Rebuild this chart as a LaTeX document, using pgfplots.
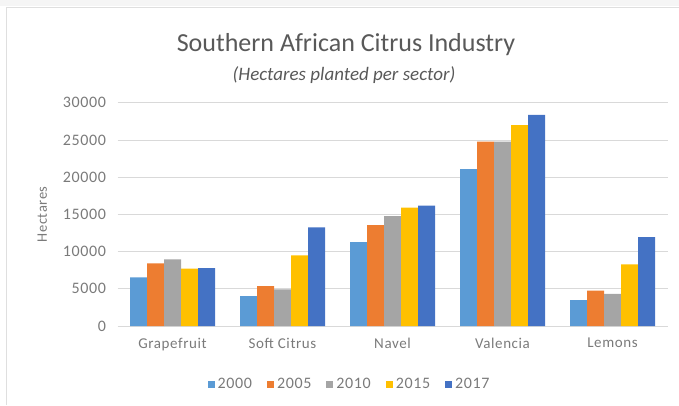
\documentclass[border=0pt]{standalone}
\usepackage{pgfplots}
\pgfplotsset{compat=1.18}
\usepackage{fontspec}
\setmainfont{Carlito}
\newfontfamily\lbl[LetterSpace=4]{Carlito}
\definecolor{c2000}{HTML}{5B9BD5}
\definecolor{c2005}{HTML}{ED7D31}
\definecolor{c2010}{HTML}{A5A5A5}
\definecolor{c2015}{HTML}{FFC000}
\definecolor{c2017}{HTML}{4472C4}
\definecolor{txt}{HTML}{595959}
\definecolor{ltxt}{HTML}{7A7A7A}
\definecolor{grd}{HTML}{D9D9D9}
\begin{document}
\begin{tikzpicture}[x=1pt,y=1pt]
\useasboundingbox (0,0) rectangle (679,405);
\fill[gray!8] (0,399) rectangle (679,405);
\draw[gray!25,line width=1pt] (6,0) -- (6,397) -- (679,397);
\node[text=txt,font=\fontsize{26}{30}\selectfont] at (346,360) {Southern African Citrus Industry};
\node[text=txt,font=\fontsize{19}{22}\selectfont\itshape] at (344,330) {(Hectares planted per sector)};
\begin{axis}[
  at={(117.5pt,79pt)}, anchor=south west,
  scale only axis, width=550pt, height=223.3pt,
  xmin=-0.5, xmax=4.5, ymin=0, ymax=30000,
  ybar=0pt, bar width=17pt,
  xtick={0,1,2,3,4},
  xticklabels={Grapefruit,Soft Citrus,Navel,Valencia,Lemons},
  ytick={0,5000,10000,15000,20000,25000,30000},
  scaled y ticks=false,
  /pgf/number format/.cd, 1000 sep={}, assume math mode=true, /pgfplots/.cd,
  tick style={draw=none},
  axis line style={draw=none},
  ymajorgrids, grid style={grd, line width=0.8pt},
  yticklabel style={text=ltxt, font=\lbl\fontsize{16}{18}\selectfont, xshift=-8pt},
  xticklabel style={text=ltxt, font=\lbl\fontsize{15}{18}\selectfont, yshift=-4pt},
  ylabel={Hectares},
  ylabel style={text=ltxt, font=\lbl\fontsize{14.5}{17}\selectfont, at={(axis description cs:-0.137,0.5)}, anchor=center},
  legend style={at={(axis description cs:0.422,-0.26)}, anchor=center, draw=none, fill=none,
    legend columns=-1, font=\lbl\fontsize{16}{18}\selectfont, text=ltxt,
    /tikz/every odd column/.append style={column sep=1pt},
    /tikz/every even column/.append style={column sep=13pt}},
  legend image code/.code={\fill[#1] (0pt,-3.5pt) rectangle (7pt,3.5pt);},
  clip=false,
]
\addplot[fill=c2000, draw=none] coordinates {(0,6550) (1,4030) (2,11280) (3,21090) (4,3490)};
\addplot[fill=c2005, draw=none] coordinates {(0,8420) (1,5370) (2,13560) (3,24760) (4,4740)};
\addplot[fill=c2010, draw=none] coordinates {(0,8960) (1,4930) (2,14770) (3,24760) (4,4300)};
\addplot[fill=c2015, draw=none] coordinates {(0,7700) (1,9490) (2,15890) (3,27000) (4,8280)};
\addplot[fill=c2017, draw=none] coordinates {(0,7790) (1,13250) (2,16160) (3,28380) (4,11950)};
\legend{2000,2005,2010,2015,2017}
\end{axis}
\end{tikzpicture}
\end{document}
